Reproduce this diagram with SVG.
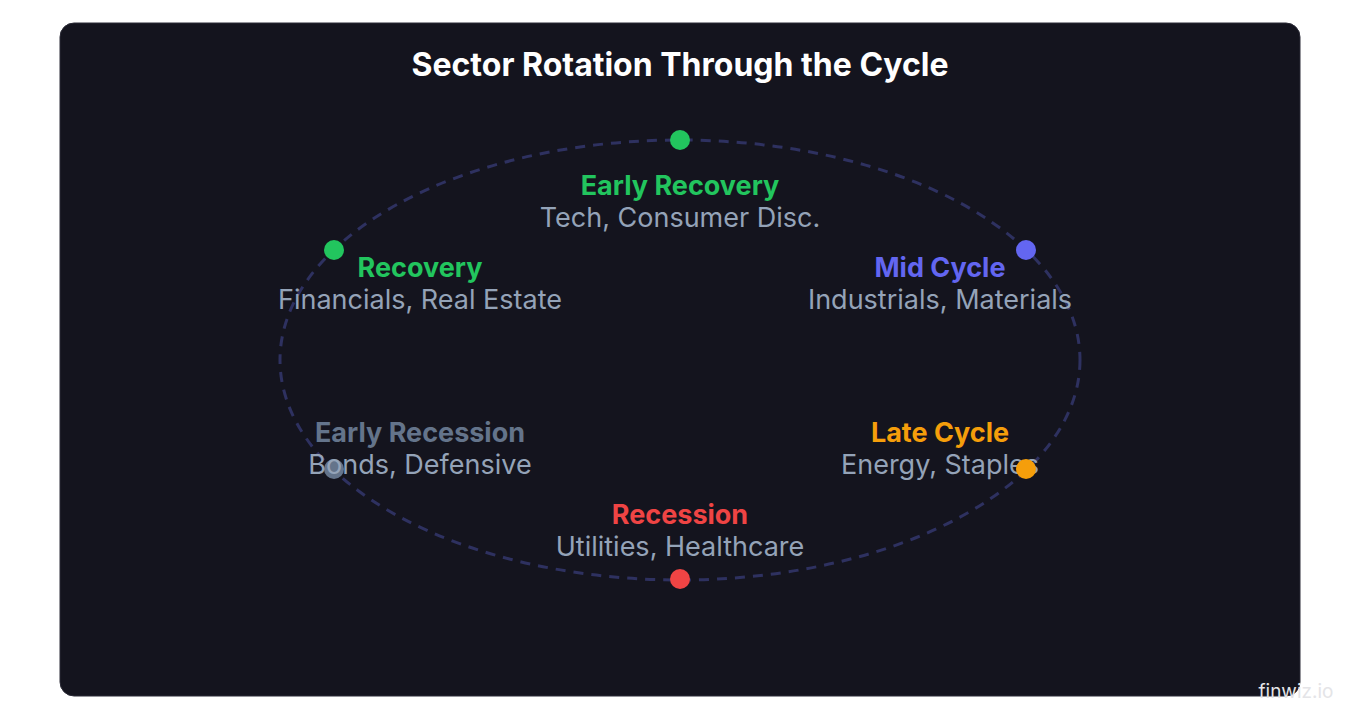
<svg xmlns="http://www.w3.org/2000/svg" width="1360" height="720" viewBox="0 0 1360 720">
<style>
text{font-family:Inter,"Noto Sans","Liberation Sans",sans-serif;text-anchor:middle}
.t{font-weight:700;font-size:27px}
.s{font-size:27px;fill:#94a3b8}
</style>
<rect width="1360" height="720" fill="#ffffff"/>
<rect x="60" y="23" width="1240" height="673" rx="14" fill="#14141e" stroke="#2a2a36"/>
<text x="680" y="76" font-size="32" font-weight="700" fill="#ffffff">Sector Rotation Through the Cycle</text>
<g id="connectors">
<ellipse cx="680" cy="360" rx="400" ry="220" fill="none" stroke="#2e3160" stroke-width="3" stroke-dasharray="10 8"/>
</g>
<g id="early-recovery"><circle cx="680" cy="140" r="10" fill="#22c55e"/><text class="t" x="680" y="195" fill="#22c55e">Early Recovery</text><text class="s" x="680" y="227">Tech, Consumer Disc.</text></g>
<g id="mid-cycle"><circle cx="1026" cy="250" r="10" fill="#6366f1"/><text class="t" x="940" y="277" fill="#6366f1">Mid Cycle</text><text class="s" x="940" y="309">Industrials, Materials</text></g>
<g id="late-cycle"><text class="t" x="940" y="442" fill="#f59e0b">Late Cycle</text><text class="s" x="940" y="474">Energy, Staples</text><circle cx="1026" cy="469" r="10" fill="#f59e0b"/></g>
<g id="recession"><circle cx="680" cy="579" r="10" fill="#ef4444"/><text class="t" x="680" y="524" fill="#ef4444">Recession</text><text class="s" x="680" y="556">Utilities, Healthcare</text></g>
<g id="early-recession"><circle cx="334" cy="469" r="10" fill="#64748b"/><text class="t" x="420" y="442" fill="#64748b">Early Recession</text><text class="s" x="420" y="474">Bonds, Defensive</text></g>
<g id="recovery"><circle cx="334" cy="250" r="10" fill="#22c55e"/><text class="t" x="420" y="277" fill="#22c55e">Recovery</text><text class="s" x="420" y="309">Financials, Real Estate</text></g>
<text x="1296" y="698" font-size="19" fill="#e4e4e7">finwiz.io</text>
</svg>
